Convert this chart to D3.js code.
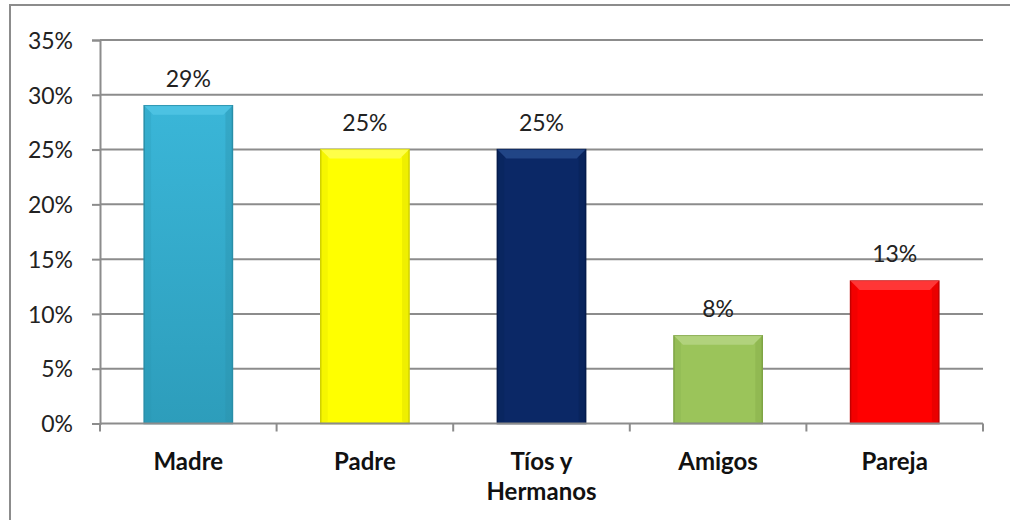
<!DOCTYPE html>
<html><head><meta charset="utf-8">
<script src="https://cdn.jsdelivr.net/npm/d3@7"></script>
<style>body{margin:0;background:#fff}svg{display:block}</style>
</head><body>
<svg id="c" width="1010" height="520"></svg>
<script>
const categories = [["Madre"], ["Padre"], ["Tíos y", "Hermanos"], ["Amigos"], ["Pareja"]];
const values = [29, 25, 25, 8, 13];
const yTicks = [0, 5, 10, 15, 20, 25, 30, 35];
const baseColors = ["#3ab6d8", "#ffff00", "#0b2866", "#9bc45a", "#ff0000"];
const lightColors = ["#50c4e4", "#ffff55", "#264a8c", "#b5d583", "#ff4040"];
const darkColors = ["#2a8fa9", "#d2d200", "#061c4d", "#7fa545", "#c40000"];

const svg = d3.select("#c");
const font = "Lato, 'Liberation Sans', sans-serif";
svg.append("rect").attr("x", 10).attr("y", 5).attr("width", 1010).attr("height", 530)
  .attr("fill", "#fff").attr("stroke", "#8c8c8c").attr("stroke-width", 2);

const x0 = 100, x1 = 983, yTop = 40, yBot = 423.5;
const x = d3.scaleBand().domain(d3.range(categories.length)).range([x0, x1]).paddingInner(0.5).paddingOuter(0.25);
const xb = d3.scaleBand().domain(d3.range(categories.length)).range([x0, x1]);
const y = d3.scaleLinear().domain([0, 35]).range([yBot, yTop]);

const defs = svg.append("defs");
values.forEach((v, i) => {
  const g = defs.append("linearGradient").attr("id", "g" + i).attr("x1", 0).attr("y1", 0).attr("x2", 0).attr("y2", 1);
  g.append("stop").attr("offset", "0%").attr("stop-color", baseColors[i]);
  g.append("stop").attr("offset", "100%").attr("stop-color", i === 0 ? "#2d9dbb" : baseColors[i]);
});

// gridlines
svg.append("g").selectAll("line").data(yTicks.filter(t => t > 0)).join("line")
  .attr("x1", x0).attr("x2", x1).attr("y1", d => y(d)).attr("y2", d => y(d))
  .attr("stroke", "#8c8c8c").attr("stroke-width", 2);

// y axis
const ya = svg.append("g").attr("transform", `translate(${x0},0)`)
  .call(d3.axisLeft(y).tickValues(yTicks).tickSize(8).tickFormat(d => d + "%"));
ya.select(".domain").attr("stroke", "#8c8c8c").attr("stroke-width", 2);
ya.selectAll(".tick line").attr("stroke", "#8c8c8c").attr("stroke-width", 2);
ya.selectAll(".tick text").attr("x", -27).attr("dy", "0.36em").attr("font-size", 23).attr("font-family", font).attr("fill", "#222");

// bars
const bars = svg.append("g").selectAll("g").data(values).join("g");
bars.append("rect").attr("x", (d, i) => x(i)).attr("width", x.bandwidth())
  .attr("y", d => y(d)).attr("height", d => yBot - y(d))
  .attr("fill", (d, i) => `url(#g${i})`).attr("stroke", (d, i) => darkColors[i]).attr("stroke-width", 1.5);
// top bevel
bars.append("path").attr("d", (d, i) => {
  const l = x(i), r = x(i) + x.bandwidth(), t = y(d), b = 9;
  return `M${l},${t}L${r},${t}L${r - b},${t + b}L${l + b},${t + b}Z`;
}).attr("fill", (d, i) => lightColors[i]).attr("opacity", 0.85);
// side shading
bars.append("path").attr("d", (d, i) => {
  const l = x(i), t = y(d), b = 7;
  return `M${l},${t}L${l + b},${t + b}L${l + b},${yBot - 2}L${l},${yBot}Z`;
}).attr("fill", (d, i) => darkColors[i]).attr("opacity", 0.2);
bars.append("path").attr("d", (d, i) => {
  const r = x(i) + x.bandwidth(), t = y(d), b = 7;
  return `M${r},${t}L${r - b},${t + b}L${r - b},${yBot - 2}L${r},${yBot}Z`;
}).attr("fill", (d, i) => darkColors[i]).attr("opacity", 0.35);
bars.append("text").attr("x", (d, i) => x(i) + x.bandwidth() / 2).attr("y", d => y(d) - 19)
  .attr("text-anchor", "middle").attr("font-size", 23).attr("font-family", font).attr("fill", "#222")
  .text(d => d + "%");

// x axis
svg.append("line").attr("x1", x0).attr("x2", x1).attr("y1", yBot).attr("y2", yBot)
  .attr("stroke", "#8c8c8c").attr("stroke-width", 2);
svg.append("g").selectAll("line").data(d3.range(categories.length + 1)).join("line")
  .attr("x1", d => x0 + d * xb.bandwidth()).attr("x2", d => x0 + d * xb.bandwidth())
  .attr("y1", yBot).attr("y2", yBot + 8).attr("stroke", "#8c8c8c").attr("stroke-width", 2);
const labs = svg.append("g").selectAll("text").data(categories).join("text")
  .attr("text-anchor", "middle").attr("font-size", 24).attr("font-weight", "bold")
  .attr("font-family", font).attr("fill", "#111");
labs.each(function (d, i) {
  d3.select(this).selectAll("tspan").data(d).join("tspan")
    .attr("x", xb(i) + xb.bandwidth() / 2).attr("y", (t, j) => 470 + j * 30).text(t => t);
});
</script>
</body></html>
